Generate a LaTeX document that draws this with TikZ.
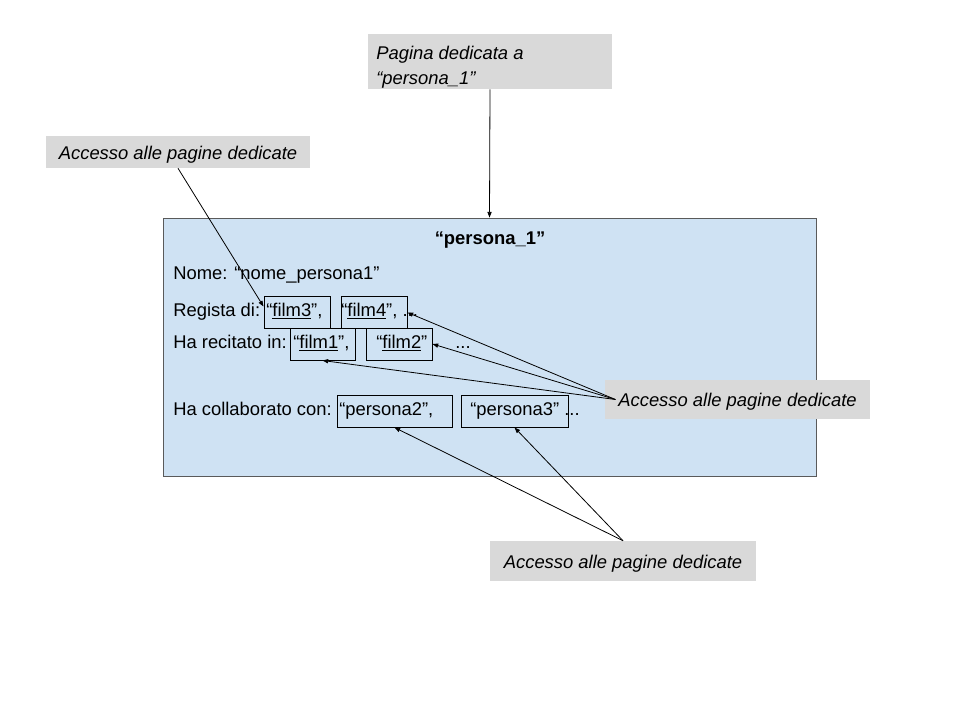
\documentclass[tikz,border=0pt]{standalone}
\usepackage{fontspec}
\setmainfont{Liberation Sans}
\usetikzlibrary{arrows.meta,positioning,fit}
\definecolor{notegray}{RGB}{217,217,217}
\definecolor{pagefill}{RGB}{207,226,243}
\definecolor{pageline}{RGB}{90,90,90}
\tikzset{note/.style={fill=notegray,inner sep=0pt,font=\fontsize{13.8}{16}\selectfont\itshape},
  notetext/.style={label={[yshift=-1.8pt,font=\fontsize{13.8}{16}\selectfont\itshape]center:#1}},
  page/.style={draw=pageline,fill=pagefill,line width=0.6pt,inner sep=0pt},
  linkbox/.style={draw=black,line width=0.75pt,inner sep=0pt},
  rowtext/.style={anchor=base west,inner sep=0pt,font=\fontsize{13.8}{16}\selectfont},
  link/.style={-{Triangle[length=1.5mm,width=1.1mm]},line width=0.6pt}}

\begin{document}
\begin{tikzpicture}[x=0.75pt,y=-0.75pt]
\useasboundingbox (0,0) rectangle (960,720);
% scheda della persona
\node[page, fit={(163,218) (816,476)}] (persona) {};
\node[rowtext, anchor=base, font=\fontsize{13.8}{16}\selectfont\bfseries] (titolo) at (490,245) {“persona\_1”};
\node[rowtext] (nome) at (173,280) {Nome: “nome\_persona1”};
\node[rowtext] (regista) at (173,316) {Regista di:};
\node[rowtext] at (266,316) {“\underline{film3}”,};
\node[rowtext] at (341,316) {“\underline{film4}”, ...};
\node[rowtext] (recitato) at (173,348) {Ha recitato in:};
\node[rowtext] at (293,348) {“\underline{film1}”,};
\node[rowtext] at (376,348) {“\underline{film2}”};
\node[rowtext] at (455,348) {...};
\node[rowtext] (collab) at (173,415) {Ha collaborato con:};
\node[rowtext] at (339,415) {“persona2”,};
\node[rowtext] at (470,415) {“persona3” ...};
% riquadri dei collegamenti
\node[linkbox, fit={(264,297) (330,328)}] (film3) {};
\node[linkbox, fit={(341,297) (407,328)}] (film4) {};
\node[linkbox, fit={(290,328) (355,360)}] (film1) {};
\node[linkbox, fit={(366,328) (432,360)}] (film2) {};
\node[linkbox, fit={(337,395) (452,427)}] (persona2) {};
\node[linkbox, fit={(461,395) (568,427)}] (persona3) {};
% note
\node[note, fit={(368,34) (612,89)}] (pagina) {};
\node[rowtext, anchor=north west, align=left, font=\fontsize{13.8}{19}\selectfont\itshape] at (376,46) {Pagina dedicata a\\“persona\_1”};
\node[note, fit={(46,136) (310,168)}, notetext={Accesso alle pagine dedicate}] (accessoA) {};
\node[note, fit={(605,380) (870,419)}, notetext={Accesso alle pagine dedicate}] (accessoB) {};
\node[note, fit={(490,541) (756,581)}, notetext={Accesso alle pagine dedicate}] (accessoC) {};
% frecce
\draw[link] (pagina.south) -- (persona.north);
\draw[link] (accessoA.south) -- ([yshift=4.5pt]film3.west);
\draw[link] ([xshift=8pt]accessoB.west) -- (film4.east);
\draw[link] ([xshift=8pt]accessoB.west) -- (film2.east);
\draw[link] ([xshift=8pt]accessoB.west) -- (film1.south);
\draw[link] (accessoC.north) -- (persona2.south);
\draw[link] (accessoC.north) -- (persona3.south);
\end{tikzpicture}
\end{document}
